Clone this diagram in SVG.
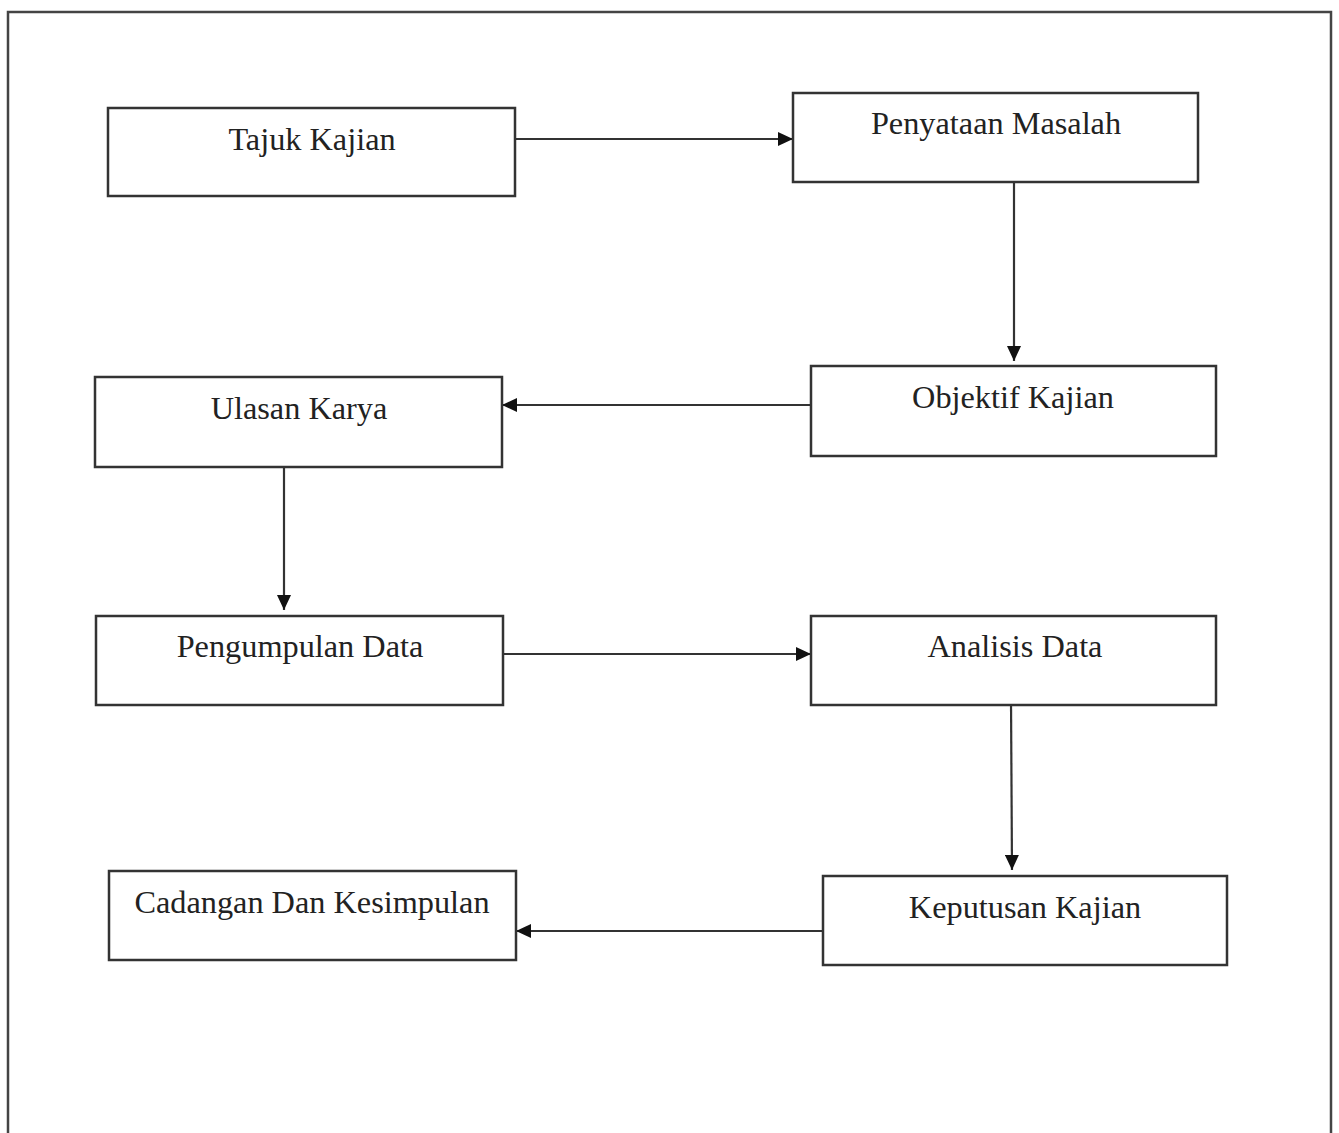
<svg xmlns="http://www.w3.org/2000/svg" width="1339" height="1133" viewBox="0 0 1339 1133">
<style>
.box{fill:#fff;stroke:#333;stroke-width:2.5}
.lbl{font-family:"Liberation Serif","Times New Roman",serif;font-size:32.3px;fill:#222;text-anchor:middle}
.con{stroke:#333;stroke-width:2.2;fill:none;marker-end:url(#ah)}
.frame{fill:none;stroke:#444;stroke-width:2.5}
</style>
<defs>
<marker id="ah" markerUnits="userSpaceOnUse" markerWidth="16" markerHeight="14" refX="15" refY="7" orient="auto">
<path d="M0,0 L15,7 L0,14 Z" fill="#111"/>
</marker>
</defs>
<rect width="1339" height="1133" fill="#fff"/>
<path class="frame" d="M8,1133 L8,12 L1331,12 L1331,1133"/>
<g id="connectors">
<line class="con" x1="515" y1="139" x2="793" y2="139"/>
<line class="con" x1="1014" y1="176" x2="1014" y2="361"/>
<line class="con" x1="811" y1="405" x2="502" y2="405"/>
<line class="con" x1="284" y1="460" x2="284" y2="610"/>
<line class="con" x1="503" y1="654" x2="811" y2="654"/>
<line class="con" x1="1011" y1="699" x2="1012" y2="870"/>
<line class="con" x1="823" y1="931" x2="516" y2="931"/>
</g>
<g id="n1"><rect class="box" x="108" y="108" width="407" height="88"/><text class="lbl" x="312" y="150">Tajuk Kajian</text></g>
<g id="n2"><rect class="box" x="793" y="93" width="405" height="89"/><text class="lbl" x="996" y="134">Penyataan Masalah</text></g>
<g id="n3"><rect class="box" x="811" y="366" width="405" height="90"/><text class="lbl" x="1013" y="408">Objektif Kajian</text></g>
<g id="n4"><rect class="box" x="95" y="377" width="407" height="90"/><text class="lbl" x="299" y="419">Ulasan Karya</text></g>
<g id="n5"><rect class="box" x="96" y="616" width="407" height="89"/><text class="lbl" x="300" y="657">Pengumpulan Data</text></g>
<g id="n6"><rect class="box" x="811" y="616" width="405" height="89"/><text class="lbl" x="1015" y="657">Analisis Data</text></g>
<g id="n7"><rect class="box" x="109" y="871" width="407" height="89"/><text class="lbl" x="312" y="913">Cadangan Dan Kesimpulan</text></g>
<g id="n8"><rect class="box" x="823" y="876" width="404" height="89"/><text class="lbl" x="1025" y="918">Keputusan Kajian</text></g>
</svg>
